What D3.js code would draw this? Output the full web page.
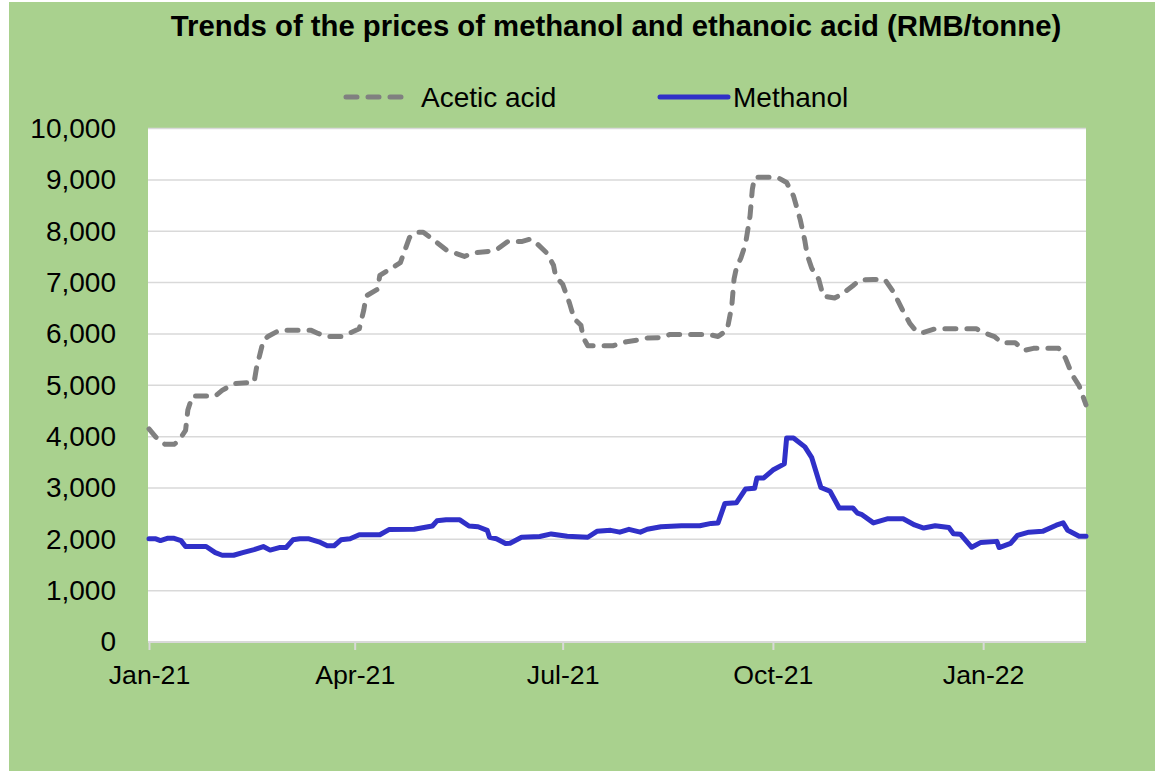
<!DOCTYPE html>
<html>
<head>
<meta charset="utf-8">
<script src="https://cdn.jsdelivr.net/npm/d3@7"></script>
<style>
  body { margin: 0; background: #ffffff; }
  svg { display: block; font-family: "Liberation Sans", Arial, sans-serif; }
</style>
</head>
<body>
<div id="canvas-body"></div>
<script>
// chart title and series names
var title = "Trends of the prices of methanol and ethanoic acid (RMB/tonne)";
var seriesNames = ["Acetic acid", "Methanol"];

// acetic acid prices
var aceticDates = ["2021-01-01","2021-01-04","2021-01-08","2021-01-12","2021-01-14","2021-01-17","2021-01-18","2021-01-20","2021-01-30",
    "2021-02-02","2021-02-07","2021-02-16","2021-02-17","2021-02-20","2021-02-22","2021-02-27","2021-03-13","2021-03-16","2021-03-20",
    "2021-03-26","2021-03-29","2021-04-03","2021-04-05","2021-04-06","2021-04-11","2021-04-12","2021-04-16","2021-04-21","2021-04-25",
    "2021-04-28","2021-05-01","2021-05-05","2021-05-11","2021-05-19","2021-05-23","2021-05-30","2021-06-02","2021-06-07","2021-06-13",
    "2021-06-17","2021-06-20","2021-06-24","2021-06-27","2021-06-28","2021-07-01","2021-07-04","2021-07-06","2021-07-09","2021-07-10",
    "2021-07-12","2021-07-23","2021-07-29","2021-08-03","2021-08-07","2021-08-13","2021-08-17","2021-09-03","2021-09-07","2021-09-11",
    "2021-09-13","2021-09-14","2021-09-15","2021-09-17","2021-09-19","2021-09-21","2021-09-22","2021-09-23","2021-10-03","2021-10-07",
    "2021-10-10","2021-10-13","2021-10-15","2021-10-16","2021-10-18","2021-10-21","2021-10-23","2021-10-28","2021-10-31","2021-11-05",
    "2021-11-08","2021-11-14","2021-11-19","2021-11-23","2021-11-27","2021-11-30","2021-12-03","2021-12-06","2021-12-11","2021-12-29",
    "2022-01-01","2022-01-06","2022-01-09","2022-01-15","2022-01-19","2022-01-23","2022-02-03","2022-02-06","2022-02-09","2022-02-12",
    "2022-02-15"];
var aceticValues = [4150,3990,3850,3850,3920,4120,4520,4790,4790,
    4900,5030,5060,5330,5870,5950,6070,6070,6010,5950,
    5950,6000,6100,6470,6740,6870,7140,7250,7390,7880,
    7980,7980,7850,7640,7510,7580,7610,7640,7800,7800,
    7850,7750,7580,7340,7110,6970,6600,6300,6170,5930,
    5770,5770,5850,5880,5920,5930,5990,5990,5950,6080,
    6540,7070,7280,7480,7750,8300,8820,9050,9050,8950,
    8690,8220,7810,7540,7280,7070,6740,6700,6770,6940,
    7050,7060,7060,6800,6440,6200,6040,6030,6100,6100,
    6030,5950,5830,5830,5680,5720,5720,5530,5200,4990,
    4620];

// methanol prices
var methanolDates = ["2021-01-01","2021-01-04","2021-01-06","2021-01-09","2021-01-12","2021-01-15","2021-01-17","2021-01-26","2021-01-30",
    "2021-02-02","2021-02-07","2021-02-11","2021-02-16","2021-02-20","2021-02-23","2021-02-27","2021-03-02","2021-03-05","2021-03-08",
    "2021-03-12","2021-03-17","2021-03-20","2021-03-23","2021-03-26","2021-03-30","2021-04-03","2021-04-12","2021-04-16","2021-04-27",
    "2021-05-05","2021-05-07","2021-05-11","2021-05-17","2021-05-21","2021-05-25","2021-05-29","2021-05-30","2021-06-02","2021-06-06",
    "2021-06-08","2021-06-13","2021-06-21","2021-06-26","2021-07-03","2021-07-12","2021-07-16","2021-07-22","2021-07-26","2021-07-30",
    "2021-08-04","2021-08-07","2021-08-13","2021-08-22","2021-08-30","2021-09-04","2021-09-07","2021-09-10","2021-09-15","2021-09-19",
    "2021-09-23","2021-09-24","2021-09-27","2021-10-01","2021-10-06","2021-10-07","2021-10-10","2021-10-15","2021-10-18","2021-10-22",
    "2021-10-26","2021-10-30","2021-11-05","2021-11-07","2021-11-09","2021-11-14","2021-11-20","2021-11-27","2021-12-02","2021-12-06",
    "2021-12-11","2021-12-17","2021-12-19","2021-12-22","2021-12-27","2021-12-31","2022-01-07","2022-01-08","2022-01-13","2022-01-16",
    "2022-01-21","2022-01-27","2022-02-02","2022-02-05","2022-02-07","2022-02-12","2022-02-15"];
var methanolValues = [2010,2010,1975,2020,2020,1975,1860,1860,1740,
    1690,1690,1740,1800,1860,1790,1840,1840,1990,2010,
    2010,1940,1875,1875,1990,2010,2090,2090,2190,2195,
    2260,2360,2380,2380,2260,2245,2175,2040,2010,1920,
    1925,2040,2055,2105,2060,2040,2155,2175,2140,2195,
    2140,2195,2245,2265,2265,2310,2320,2700,2710,2980,
    2995,3195,3195,3350,3470,3975,3975,3800,3590,3010,
    2935,2610,2610,2510,2480,2320,2400,2400,2280,2220,
    2265,2230,2110,2100,1845,1940,1960,1840,1920,2075,
    2140,2155,2275,2320,2175,2060,2060];

// axis ticks
var yTicks = [0,1000,2000,3000,4000,5000,6000,7000,8000,9000,10000];
var xTickDates = ["2021-01-01","2021-04-01","2021-07-01","2021-10-01","2022-01-01"];
var xDomain = ["2021-01-01","2022-02-15"];

// size of svg image
const width = 1155, height = 771;
const plot = {left: 148, right: 1086, top: 128, bottom: 642};

var parse = d3.timeParse("%Y-%m-%d");

var s = d3.select("#canvas-body")
    .append("svg")
    .attr("width", width)
    .attr("height", height);

// chart background
s.append("rect")
    .attr("x", 9).attr("y", 2)
    .attr("width", width - 9).attr("height", height - 2)
    .attr("fill", "#a9d18e");

// plot area
s.append("rect")
    .attr("x", plot.left).attr("y", plot.top)
    .attr("width", plot.right - plot.left).attr("height", plot.bottom - plot.top)
    .attr("fill", "#ffffff");

// scales
var x = d3.scaleTime()
    .domain(xDomain.map(parse))
    .range([plot.left + 1, plot.right]);
var y = d3.scaleLinear()
    .domain([0, 10000])
    .range([plot.bottom, plot.top + 0.6]);

// gridlines
s.append("g")
    .selectAll("line")
    .data(yTicks.slice(1))
    .enter()
    .append("line")
    .attr("x1", plot.left).attr("x2", plot.right)
    .attr("y1", function(d){ return y(d); })
    .attr("y2", function(d){ return y(d); })
    .attr("stroke", "#d9d9d9")
    .attr("stroke-width", 1.5);

// y axis labels
var yaxis = d3.axisLeft(y)
    .tickValues(yTicks)
    .tickSize(0)
    .tickPadding(0)
    .tickFormat(d3.format(","));
s.append("g")
    .attr("transform", "translate(116,0)")
    .call(yaxis)
    .call(function(g){ g.select(".domain").remove(); })
    .selectAll("text")
    .attr("fill", "#000000")
    .attr("font-size", "28px")
    .attr("font-family", "Liberation Sans, Arial, sans-serif");

// x axis
var xaxis = d3.axisBottom(x)
    .tickValues(xTickDates.map(parse))
    .tickSize(8)
    .tickPadding(15)
    .tickFormat(d3.timeFormat("%b-%y"));
var gx = s.append("g")
    .attr("transform", "translate(0," + plot.bottom + ")")
    .call(xaxis);
gx.select(".domain")
    .attr("d", "M" + plot.left + ",0H" + plot.right)
    .attr("stroke", "#d9d9d9")
    .attr("stroke-width", 2);
gx.selectAll(".tick line")
    .attr("stroke", "#d9d9d9")
    .attr("stroke-width", 2);
gx.selectAll("text")
    .attr("fill", "#000000")
    .attr("font-size", "26.7px")
    .attr("font-family", "Liberation Sans, Arial, sans-serif");

// line generator
var linefunc = d3.line()
    .x(function(d){ return x(d[0]); })
    .y(function(d){ return y(d[1]); })
    .curve(d3.curveLinear);

var aceticData = aceticDates.map(function(d, i){ return [parse(d), aceticValues[i]]; });
var methanolData = methanolDates.map(function(d, i){ return [parse(d), methanolValues[i]]; });

// acetic acid line
s.append("path")
    .attr("d", linefunc(aceticData))
    .attr("fill", "none")
    .attr("stroke", "#808080")
    .attr("stroke-width", 5)
    .attr("stroke-dasharray", "11,11")
    .attr("stroke-linecap", "round")
    .attr("stroke-linejoin", "round");

// methanol line
s.append("path")
    .attr("d", linefunc(methanolData))
    .attr("fill", "none")
    .attr("stroke", "#3030c8")
    .attr("stroke-width", 5)
    .attr("stroke-linecap", "round")
    .attr("stroke-linejoin", "round");

// title
s.append("text")
    .attr("x", 616).attr("y", 36)
    .attr("text-anchor", "middle")
    .attr("font-size", "29.3px")
    .attr("font-weight", "bold")
    .attr("fill", "#000000")
    .text(title);

// legend
var legend = s.append("g");
legend.append("line")
    .attr("x1", 346).attr("x2", 405).attr("y1", 97).attr("y2", 97)
    .attr("stroke", "#808080").attr("stroke-width", 5)
    .attr("stroke-dasharray", "11,11").attr("stroke-linecap", "round");
legend.append("text")
    .attr("x", 421).attr("y", 107)
    .attr("font-size", "28px").attr("fill", "#000000")
    .text(seriesNames[0]);
legend.append("line")
    .attr("x1", 660).attr("x2", 728).attr("y1", 97).attr("y2", 97)
    .attr("stroke", "#3030c8").attr("stroke-width", 5)
    .attr("stroke-linecap", "round");
legend.append("text")
    .attr("x", 733).attr("y", 107)
    .attr("font-size", "28px").attr("fill", "#000000")
    .text(seriesNames[1]);
</script>
</body>
</html>
